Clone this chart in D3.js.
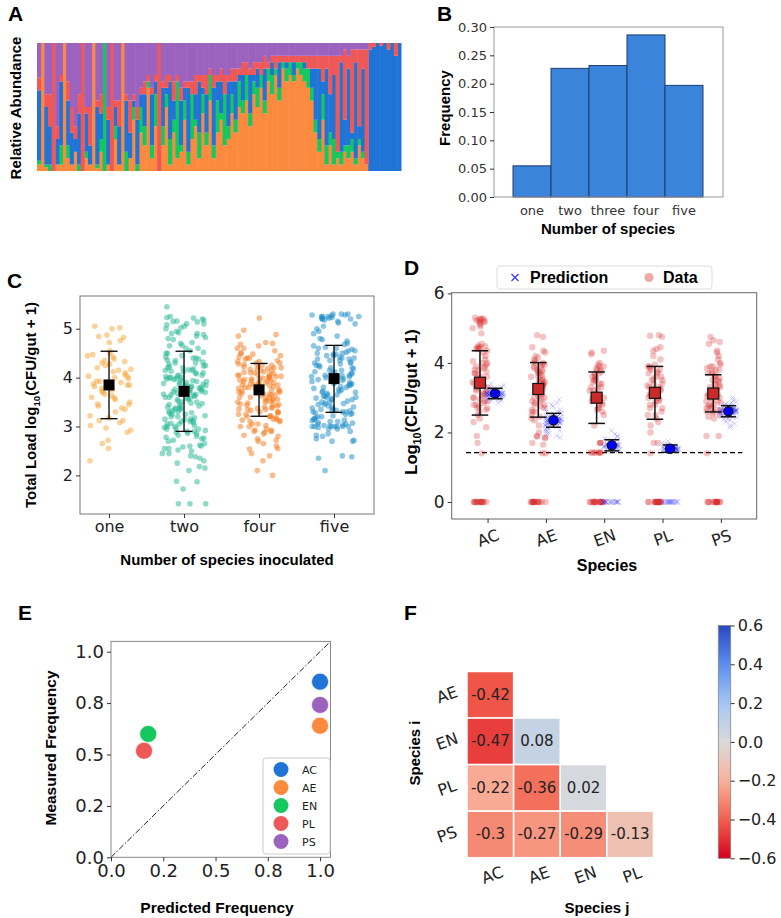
<!DOCTYPE html>
<html><head><meta charset="utf-8">
<script src="https://cdn.jsdelivr.net/npm/d3@7"></script>
<style>body{margin:0;background:#fff}svg{display:block}</style>
</head><body><svg id="chart" width="781" height="918"></svg>
<script>
// ---------------- DATA ----------------
// Panel A: relative abundance per sample (percent)
const aAC = [55,0,45,30,0,20,50,0,35,25, 10,40,0,30,15,0,45,20,0,35, 0,15,30,0,40,20,5,35,10,25, 0,40,10,0,30,5,45,15,0,35,
  10,50,0,20,40,5,30,0,45,15, 25,0,35,10,30,5,20,0,30,5, 15,0,25,0,10,0,20,0,5,0, 10,0,0,5,0,15,40,55,10,60,
  30,50,0,70,20,60,5,75,10,65, 0,95,97,100,98,100,95,100,90,100];
const aAE = [5,100,3,0,0,5,5,100,10,5, 15,0,0,10,5,100,2,15,0,5, 0,25,5,100,0,10,40,0,30,20, 65,10,35,0,20,50,5,30,10,15,
  40,5,25,35,10,45,20,55,10,30, 40,20,25,45,30,50,45,55,35,60, 50,65,45,70,60,75,55,80,70,75, 70,80,75,70,65,55,30,15,40,5,
  20,5,10,5,15,10,15,5,20,10, 5,0,0,0,0,0,0,0,0,0];
const aEN = [3,0,2,5,0,0,15,0,10,0, 0,5,0,5,0,0,3,10,100,0, 0,10,0,0,15,0,10,5,20,15, 5,10,25,0,15,10,20,10,60,5,
  15,10,35,5,20,15,10,20,10,25, 5,40,10,15,10,20,10,20,10,10, 15,10,10,10,15,5,10,5,10,10, 5,5,10,10,15,10,10,10,20,15,
  10,20,5,10,5,10,10,5,5,5, 0,0,0,0,0,0,0,0,0,0];
const aPL = [10,0,10,25,100,10,5,0,15,20, 10,15,100,5,30,0,5,15,0,10, 100,5,20,0,5,25,5,10,5,10, 5,5,5,100,5,10,5,15,5,10,
  5,5,10,15,5,10,15,5,10,5, 10,15,5,10,10,5,10,10,5,10, 5,10,10,5,5,10,5,5,5,5, 5,5,5,5,10,10,10,10,20,10,
  30,15,75,5,55,10,65,10,60,15, 90,5,3,0,2,0,5,0,10,0];
const aPS = [27,0,40,40,0,65,25,0,30,50, 65,40,0,50,50,0,45,40,0,50, 0,45,45,0,40,45,40,50,35,30, 25,35,25,0,30,25,25,30,25,35,
  30,30,30,25,25,25,25,20,25,25, 20,25,25,20,20,20,15,15,20,15, 15,15,10,15,10,10,10,10,10,10, 10,10,10,10,10,10,10,10,10,10,
  10,10,10,10,5,10,5,5,5,5, 5,0,0,0,0,0,0,0,0,0];
const aStackOrder = ['AE','EN','AC','PL','PS'];

// Panel B
const bCats = ['one','two','three','four','five'];
const bFreq = [0.055, 0.227, 0.232, 0.286, 0.197];
const bTicks = [0,0.05,0.10,0.15,0.20,0.25,0.30];

// Panel C
const cCats = ['one','two','four','five'];
const cOne = [5.05,5.02,5.0,4.87,4.84,4.82,4.76,4.72,4.55,4.5,4.45,4.42,4.38,4.35,4.33,4.3,4.25,4.2,4.17,4.15,4.1,4.06,4.03,4.0,3.98,3.93,3.9,3.87,3.85,3.82,
  3.78,3.74,3.7,3.66,3.63,3.6,3.55,3.5,3.46,3.42,3.38,3.35,3.3,3.22,3.18,3.12,3.08,3.02,2.97,2.93,2.88,2.72,2.65,2.55,2.3,
  4.02,3.92,3.72,3.58,4.12,4.28,3.12,3.45,3.85,4.47];
const cTwo = [5.45,5.25,5.23,5.22,5.2,5.18,5.16,5.14,5.1,5.08,5.05,5.02,5.0,4.95,4.92,4.9,4.88,4.85,4.82,4.78,4.72,4.66,4.65,4.6,4.55,4.5,4.5,4.45,4.42,4.4,
  4.38,4.35,4.32,4.3,4.28,4.25,4.22,4.2,4.18,4.16,4.15,4.12,4.1,4.08,4.05,4.03,4.0,4.0,3.98,3.96,3.94,3.92,3.9,3.88,3.86,3.84,3.82,3.8,3.78,3.76,
  3.74,3.73,3.72,3.7,3.68,3.66,3.64,3.62,3.6,3.58,3.55,3.52,3.5,3.48,3.45,3.42,3.4,3.38,3.35,3.32,3.3,3.28,3.25,3.22,3.2,3.18,3.15,3.12,3.1,3.08,
  3.05,3.02,3.0,2.98,2.95,2.92,2.9,2.88,2.85,2.82,2.8,2.78,2.75,2.72,2.7,2.65,2.62,2.6,2.58,2.55,2.52,2.5,2.45,2.4,2.38,2.35,2.25,2.18,2.15,2.1,
  1.88,1.87,1.72,1.42,1.42,1.42,
  4.6,4.4,4.3,4.2,4.15,4.1,4.05,4.0,3.95,3.9,3.85,3.8,3.75,3.7,3.65,3.6,3.55,3.5,3.45,3.4,3.35,3.3,3.25,3.2,3.15,3.1,3.05,3.0,2.95,2.9,
  3.92,3.87,3.76,3.66,3.58,3.47,3.37,3.27,3.14,3.06,2.96,2.86,2.76,2.6,2.45,2.3,4.52,4.36,4.24,4.13,4.02,3.97,3.83,3.71,5.1,5.15,4.9,4.8,4.7,2.55];
const cFour = [5.22,4.97,4.88,4.85,4.72,4.7,4.65,4.6,4.55,4.5,4.48,4.45,4.42,4.4,4.38,4.35,4.33,4.3,4.28,4.27,4.25,4.23,4.2,4.18,4.17,4.15,4.12,4.1,4.08,4.06,
  4.05,4.03,4.02,4.0,3.99,3.97,3.95,3.93,3.92,3.9,3.88,3.87,3.85,3.84,3.82,3.8,3.79,3.77,3.75,3.74,3.72,3.7,3.68,3.67,3.65,3.63,3.6,3.58,3.56,3.55,
  3.53,3.5,3.48,3.46,3.45,3.42,3.4,3.38,3.36,3.35,3.33,3.3,3.28,3.25,3.22,3.2,3.18,3.15,3.12,3.1,3.05,3.0,2.95,2.93,2.9,2.88,2.85,2.8,2.75,2.72,
  2.65,2.55,2.54,2.4,2.3,2.1,2.0,
  4.5,4.4,4.3,4.25,4.2,4.15,4.1,4.05,4.0,3.95,3.9,3.85,3.8,3.75,3.7,3.65,3.6,3.55,3.5,3.45,3.4,3.35,3.3,3.25,3.2,3.15,3.1,3.05,4.33,4.22,
  4.11,4.03,3.96,3.89,3.81,3.73,3.66,3.59,3.51,3.44,3.37,3.29,3.21,3.13,3.02,2.92,2.82,2.7,2.6,2.9,3.0,3.78,3.86,3.94,4.07,4.18,4.6,4.68,2.45,3.97];
const cFive = [5.25,5.3,5.3,5.28,5.27,5.25,5.25,5.23,5.22,5.2,5.2,5.18,5.15,5.12,5.1,5.05,5.0,4.95,4.85,4.8,4.78,4.75,4.7,4.68,4.65,4.6,4.58,4.55,4.52,4.5,
  4.48,4.45,4.42,4.4,4.38,4.35,4.32,4.3,4.28,4.25,4.22,4.2,4.18,4.15,4.12,4.1,4.08,4.05,4.04,4.02,4.0,3.98,3.96,3.94,3.92,3.9,3.88,3.86,3.84,3.82,
  3.8,3.78,3.75,3.72,3.7,3.68,3.65,3.62,3.6,3.58,3.55,3.52,3.5,3.48,3.45,3.42,3.4,3.38,3.35,3.33,3.32,3.3,3.3,3.28,3.25,3.22,3.2,3.18,3.15,3.12,
  3.1,3.08,3.05,3.03,3.02,3.0,3.0,3.0,3.0,2.98,2.95,2.9,2.85,2.8,2.75,2.7,2.7,2.4,2.38,2.35,2.1,
  5.3,5.28,5.25,5.22,5.2,4.9,4.6,4.55,4.5,4.45,4.4,4.35,4.3,4.25,4.2,4.15,4.1,4.05,4.0,3.95,3.9,3.85,3.8,3.75,3.7,3.65,3.6,3.55,3.5,3.45,
  3.4,3.35,3.3,3.25,3.2,3.15,3.1,3.05,3.0,3.0,3.0,2.95,3.33,3.13,3.07,3.01,4.02,4.12,3.97,3.88,3.72,4.62,4.48,4.38,3.47,3.57,3.27,2.82,2.72,3.62];
const cMean = [3.85, 3.72, 3.75, 3.98];
const cLo = [3.16, 2.90, 3.21, 3.29];
const cHi = [4.54, 4.54, 4.29, 4.66];
const cTicks = [2,3,4,5];

// Panel D
const dSpecies = ['AC','AE','EN','PL','PS'];
const dAC = [5.3,5.28,5.27,5.25,5.22,5.2,5.18,5.15,5.1,5.05,5.0,4.85,4.55,4.5,4.48,4.45,4.42,4.4,4.35,4.3,4.2,4.1,4.05,4.0,3.95,3.9,3.85,3.8,3.75,3.7,
  3.65,3.6,3.55,3.5,3.45,3.4,3.35,3.3,3.25,3.2,3.15,3.1,3.05,3.0,2.95,2.9,2.85,2.8,2.75,2.7,2.65,2.6,2.5,2.4,2.3,2.15,1.9,1.7,1.4,
  3.5,3.4,3.3,3.2,3.6,3.7,3.1,3.0,2.9,4.45,4.4,5.25,5.2,3.8,3.45,3.35,2.7,2.8,3.9,4.0,
  0,0,0,0,0,0,0,0,0,0,0,0,0,0];
const dAE = [4.8,4.75,4.45,4.35,4.3,4.2,4.15,4.1,4.05,4.0,3.95,3.9,3.85,3.8,3.75,3.7,3.65,3.6,3.55,3.5,3.45,3.4,3.35,3.3,3.25,3.2,3.15,3.1,3.05,3.0,
  2.95,2.9,2.85,2.8,2.75,2.7,2.65,2.6,2.5,2.4,2.35,2.2,2.0,1.9,1.88,1.85,1.7,1.65,1.4,1.4,
  3.5,3.4,3.3,3.2,3.6,3.7,3.1,3.0,2.9,3.8,3.9,4.0,3.45,3.35,2.8,2.6,2.45,1.85,3.95,3.75,
  0,0,0,0,0,0,0,0,0,0,0,0,0,0];
const dEN = [4.35,4.3,4.25,4.0,3.95,3.9,3.85,3.8,3.75,3.7,3.65,3.6,3.55,3.5,3.45,3.4,3.3,3.25,3.2,3.1,3.0,2.95,2.9,2.85,2.8,2.7,2.65,2.6,2.5,2.2,
  1.7,1.7,1.7,1.42,1.42,1.42,1.42,1.42,1.42, 3.6,3.4,3.3,3.2,3.5,3.0,2.9,2.8,3.8,3.9,1.42,1.42,2.7,3.7,
  0,0,0,0,0,0,0,0,0,0,0,0,0,0,0,0];
const dPL = [4.8,4.78,4.75,4.45,4.4,4.35,4.2,4.1,3.95,3.9,3.85,3.8,3.75,3.7,3.6,3.55,3.5,3.4,3.35,3.3,3.25,3.2,3.1,3.05,3.0,2.95,2.9,2.8,2.7,2.6,
  2.5,2.4,2.3,2.2,2.0,1.7,1.7,1.4, 3.5,3.4,3.3,3.2,3.6,3.0,2.9,2.8,3.8,3.9,2.7,2.5,3.1,3.7,
  0,0,0,0,0,0,0,0,0,0,0,0,0,0,0,0];
const dPS = [4.75,4.65,4.6,4.55,4.35,4.3,4.2,4.1,4.0,3.95,3.9,3.85,3.8,3.75,3.7,3.65,3.6,3.55,3.5,3.45,3.4,3.35,3.3,3.25,3.2,3.15,3.1,3.05,3.0,2.95,
  2.9,2.85,2.8,2.75,2.7,2.65,2.6,2.55,2.5,2.45,2.4,1.9,1.9,1.4, 3.5,3.4,3.3,3.2,3.6,3.0,2.9,2.8,3.8,3.9,2.7,2.6,3.1,3.7,2.65,2.75,
  0,0,0,0,0,0,0,0,0,0,0,0,0,0];
const pAC = [3.4,3.35,3.3,3.28,3.25,3.22,3.2,3.18,3.16,3.15,3.14,3.13,3.12,3.12,3.11,3.1,3.1,3.09,3.08,3.07,3.06,3.05,3.04,3.02,3.0,2.98,2.95,2.92,2.9,2.85,
  3.13,3.15,3.08,3.11,3.06,3.18,3.03,3.1,3.14,3.09,
  3.12,3.1,3.08,3.14,3.16,3.05,3.2,3.0,3.11,3.13,3.09,3.07,3.15,3.17,3.03,3.22,2.97,3.25,3.12,3.1,3.18,3.06,3.14,3.01,3.3,2.93,3.11,3.09,3.13,3.08];
const pAE = [2.95,2.85,2.75,2.65,2.6,2.55,2.5,2.48,2.45,2.42,2.4,2.38,2.36,2.35,2.34,2.33,2.32,2.3,2.28,2.26,2.25,2.22,2.2,2.18,2.15,2.1,2.05,2.0,1.95,1.9,
  1.85,2.37,2.31,2.29,2.41,2.27,2.35,2.39,2.44,2.24,
  2.35,2.3,2.4,2.38,2.33,2.28,2.45,2.25,2.5,2.2,2.36,2.32,2.42,2.27,2.55,2.15,2.34,2.37,2.29,2.6,2.1,2.39,2.31,2.7,2.05,2.43,2.26,2.8,1.98,2.36];
const pEN = [2.05,1.95,1.88,1.82,1.78,1.75,1.72,1.7,1.68,1.66,1.65,1.64,1.63,1.62,1.61,1.6,1.59,1.58,1.56,1.55,1.53,1.5,1.48,1.46,1.62,1.64,1.6,1.67,1.57,1.63,
  1.62,1.6,1.65,1.58,1.67,1.55,1.7,1.63,1.61,1.64,1.59,1.66,1.52,1.74,1.62,1.57,1.8,1.5,1.63,1.9,
  0,0,0,0,0,0,0,0,0,0,0,0,0,0,0,0,0,0,0,0];
const pPL = [1.75,1.7,1.66,1.63,1.6,1.58,1.57,1.56,1.55,1.54,1.53,1.53,1.52,1.52,1.51,1.5,1.5,1.49,1.48,1.47,1.46,1.45,1.55,1.54,1.52,1.51,1.56,1.5,
  1.53,1.52,1.54,1.51,1.55,1.5,1.56,1.49,1.57,1.48,1.53,1.58,1.52,1.6,1.47,1.54,1.62,1.51,1.65,1.53,
  0,0,0,0,0,0,0,0,0,0,0,0,0,0,0,0,0,0,0,0];
const pPS = [3.0,2.92,2.88,2.82,2.78,2.75,2.72,2.7,2.68,2.66,2.65,2.64,2.63,2.62,2.61,2.6,2.6,2.59,2.58,2.57,2.56,2.55,2.53,2.5,2.48,2.45,2.42,2.38,2.3,2.2,
  2.15,2.62,2.64,2.58,2.66,2.61,2.56,2.6,2.63,2.59,
  2.61,2.6,2.62,2.59,2.64,2.57,2.66,2.55,2.68,2.52,2.63,2.58,2.7,2.5,2.72,2.47,2.61,2.65,2.56,2.75,2.43,2.8,2.4,2.6,2.62,2.35,2.85,2.59,2.25,2.63];
const dDataMean = [3.43, 3.25, 3.00, 3.14, 3.12];
const dDataLo = [2.50, 2.44, 2.26, 2.38, 2.59];
const dDataHi = [4.35, 4.01, 3.74, 3.90, 3.66];
const dPredMean = [3.12, 2.35, 1.63, 1.53, 2.61];
const dPredLo = [2.97, 2.15, 1.47, 1.43, 2.45];
const dPredHi = [3.27, 2.55, 1.79, 1.64, 2.77];
const dDetectLimit = 1.417;
const dTicks = [0,2,4,6];

// Panel E
const eSpecies = ['AC','AE','EN','PL','PS'];
const ePredicted = [1.0, 1.0, 0.178, 0.158, 1.0];
const eMeasured = [0.854, 0.64, 0.60, 0.518, 0.741];
const eTicks = [0, 0.25, 0.5, 0.75, 1.0];
const eTickLabels = ['0.0','0.2','0.5','0.8','1.0'];

// Panel F
const fRows = ['AE','EN','PL','PS'];
const fCols = ['AC','AE','EN','PL'];
const fValues = [[-0.42],[-0.47,0.08],[-0.22,-0.36,0.02],[-0.3,-0.27,-0.29,-0.13]];
const fTicks = [-0.6,-0.4,-0.2,0,0.2,0.4,0.6];

// ---------------- STYLE ----------------
const speciesColor = {AC:'#1f74d6', AE:'#fb8a3e', EN:'#14c85f', PL:'#ef5858', PS:'#9b62be'};
const BOLD = "'Liberation Sans', Arial, sans-serif";
const TICK = "'DejaVu Sans', sans-serif";

const svg = d3.select('#chart');
svg.append('rect').attr('width',781).attr('height',918).attr('fill','#fff');

function letter(t,x,y){ svg.append('text').attr('x',x).attr('y',y).text(t)
  .attr('font-family',BOLD).attr('font-weight','bold').attr('font-size',21).attr('fill','#000'); }
function boldLabel(t,x,y,rot,size){
  const el = svg.append('text').attr('transform',`translate(${x},${y}) rotate(${rot||0})`)
    .attr('text-anchor','middle').attr('font-family',BOLD).attr('font-weight','bold')
    .attr('font-size',size||15).attr('fill','#000');
  if (Array.isArray(t)) t.forEach(p=>{ const s=el.append('tspan').text(p.t); if(p.sub) s.attr('font-size',(size||15)*0.65).attr('dy',4); else if(p.after) s.attr('dy',-4); });
  else el.text(t);
  return el;
}
// deterministic horizontal jitter (layout only, not data)
function jit(i, amp){ const h = Math.sin(i*12.9898+78.233)*43758.5453; return ((h-Math.floor(h)) - 0.5)*2*amp; }
function styleAxis(g, fs, col){
  g.select('.domain').remove();
  g.selectAll('.tick line').attr('stroke','#333');
  g.selectAll('.tick text').attr('font-family',TICK).attr('font-size',fs).attr('fill',col||'#222');
}

// ---------------- PANEL A ----------------
letter('A',8,21);
const aIdx = d3.range(aAC.length);
const aRows = aIdx.map(i=>({AC:aAC[i],AE:aAE[i],EN:aEN[i],PL:aPL[i],PS:aPS[i]}));
const aStack = d3.stack().keys(aStackOrder).offset(d3.stackOffsetExpand)(aRows);
const ax = d3.scaleBand().domain(aIdx).range([37,401]);
const ay = d3.scaleLinear().domain([0,1]).range([171,43]);
const gA = svg.append('g');
aStack.forEach(layer=>{
  gA.selectAll(null).data(layer).join('rect')
    .attr('x',(d,i)=>ax(i)).attr('width',ax.bandwidth()+0.5)
    .attr('y',d=>ay(d[1])).attr('height',d=>Math.max(0,ay(d[0])-ay(d[1])))
    .attr('fill',speciesColor[layer.key]);
});
boldLabel('Relative Abundance',21,108,-90,15);

// ---------------- PANEL B ----------------
letter('B',437,21);
const bx = d3.scaleBand().domain(bCats).range([513,703]);
const by = d3.scaleLinear().domain([0,0.30]).range([197,27]);
svg.append('g').selectAll('rect').data(bCats).join('rect')
  .attr('x',d=>bx(d)).attr('width',bx.bandwidth())
  .attr('y',(d,i)=>by(bFreq[i])).attr('height',(d,i)=>by(0)-by(bFreq[i]))
  .attr('fill','#3b84dc').attr('stroke','#1d3c6e').attr('stroke-width',1);
svg.append('rect').attr('x',494).attr('y',27).attr('width',229).attr('height',170)
  .attr('fill','none').attr('stroke','#999').attr('stroke-width',1);
styleAxis(svg.append('g').attr('transform','translate(494,0)')
  .call(d3.axisLeft(by).tickValues(bTicks).tickFormat(d3.format('.2f')).tickSize(4)), 13, '#333');
styleAxis(svg.append('g').attr('transform','translate(0,197)')
  .call(d3.axisBottom(bx).tickSize(0).tickPadding(9)), 13, '#333');
boldLabel('Frequency',450,108,-90,15);
boldLabel('Number of species',608,234,0,15);

// ---------------- PANEL C ----------------
letter('C',7,288);
const cx = d3.scaleLinear().domain([-0.387,3.533]).range([80,374]);
const cy = d3.scaleLinear().domain([1.21,5.67]).range([514,296]);
const cGroups = [cOne,cTwo,cFour,cFive];
const cColors = ['#f7a633','#1fb592','#f57a1c','#1a8dc8'];
const cAmp = [0.3,0.3,0.3,0.3];
const gC = svg.append('g');
cGroups.forEach((arr,g)=>{
  gC.selectAll(null).data(arr).join('circle')
    .attr('cx',(d,i)=>cx(g + (g===3 && i===0 ? 0.33 : jit(i+g*311,cAmp[g]))))
    .attr('cy',d=>cy(d)).attr('r',2.8)
    .attr('fill',cColors[g]).attr('fill-opacity',0.5);
});
cCats.forEach((c,g)=>{
  const x = cx(g);
  gC.append('line').attr('x1',x).attr('x2',x).attr('y1',cy(cLo[g])).attr('y2',cy(cHi[g])).attr('stroke','#000').attr('stroke-width',1.3);
  [cLo[g],cHi[g]].forEach(v=>gC.append('line').attr('x1',x-8.5).attr('x2',x+8.5).attr('y1',cy(v)).attr('y2',cy(v)).attr('stroke','#000').attr('stroke-width',1.3));
  gC.append('rect').attr('x',x-5.5).attr('y',cy(cMean[g])-5.5).attr('width',11).attr('height',11).attr('fill','#000');
});
svg.append('rect').attr('x',80).attr('y',296).attr('width',294).attr('height',218)
  .attr('fill','none').attr('stroke','#777').attr('stroke-width',1);
styleAxis(svg.append('g').attr('transform','translate(80,0)')
  .call(d3.axisLeft(cy).tickValues(cTicks).tickFormat(d3.format('d')).tickSize(4)), 16);
styleAxis(svg.append('g').attr('transform','translate(0,514)')
  .call(d3.axisBottom(cx).tickValues(d3.range(cCats.length)).tickFormat(i=>cCats[i]).tickSize(4)), 16);
boldLabel([{t:'Total Load log'},{t:'10',sub:true},{t:'(CFU/gut + 1)',after:true}],36,405,-90,15);
boldLabel('Number of species inoculated',227,565,0,15);

// ---------------- PANEL D ----------------
letter('D',404,275);
const dx = d3.scaleLinear().domain([-0.615,4.615]).range([451.7,756.7]);
const dy = d3.scaleLinear().domain([-0.49,6.02]).range([519,292.7]);
const dData = [dAC,dAE,dEN,dPL,dPS];
const dPred = [pAC,pAE,pEN,pPL,pPS];
const gD = svg.append('g');
gD.append('line').attr('x1',dx(-0.37)).attr('x2',dx(4.37)).attr('y1',dy(dDetectLimit)).attr('y2',dy(dDetectLimit))
  .attr('stroke','#000').attr('stroke-width',1.3).attr('stroke-dasharray','5,3');
dData.forEach((arr,g)=>{
  gD.selectAll(null).data(arr).join('circle')
    .attr('cx',(d,i)=>dx(g-0.13+jit(i+g*173,0.13))).attr('cy',d=>dy(d)).attr('r',3.2)
    .attr('fill','#d62728').attr('fill-opacity',0.28);
});
dPred.forEach((arr,g)=>{
  arr.forEach((v,i)=>{
    const px = dx(g+0.13+jit(i+g*97+1000,0.15)), py = dy(v), s=2.6;
    gD.append('path').attr('d',`M${px-s},${py-s}L${px+s},${py+s}M${px-s},${py+s}L${px+s},${py-s}`)
      .attr('stroke','#2222ff').attr('stroke-opacity',0.3).attr('stroke-width',0.7).attr('fill','none');
  });
});
dSpecies.forEach((s,g)=>{
  const xd = dx(g-0.13), xp = dx(g+0.13);
  gD.append('line').attr('x1',xd).attr('x2',xd).attr('y1',dy(dDataLo[g])).attr('y2',dy(dDataHi[g])).attr('stroke','#111').attr('stroke-width',1.5);
  [dDataLo[g],dDataHi[g]].forEach(v=>gD.append('line').attr('x1',xd-8.3).attr('x2',xd+8.3).attr('y1',dy(v)).attr('y2',dy(v)).attr('stroke','#111').attr('stroke-width',1.5));
  gD.append('line').attr('x1',xp).attr('x2',xp).attr('y1',dy(dPredLo[g])).attr('y2',dy(dPredHi[g])).attr('stroke','#111').attr('stroke-width',1.5);
  [dPredLo[g],dPredHi[g]].forEach(v=>gD.append('line').attr('x1',xp-7.5).attr('x2',xp+7.5).attr('y1',dy(v)).attr('y2',dy(v)).attr('stroke','#111').attr('stroke-width',1.5));
  gD.append('rect').attr('x',xd-5.5).attr('y',dy(dDataMean[g])-5.5).attr('width',11).attr('height',11)
    .attr('fill','#cc2a2a').attr('stroke','#111').attr('stroke-width',1.2);
  gD.append('circle').attr('cx',xp).attr('cy',dy(dPredMean[g])).attr('r',4.6)
    .attr('fill','#0000ff').attr('stroke','#111').attr('stroke-width',1.2);
});
svg.append('rect').attr('x',451.7).attr('y',292.7).attr('width',305).attr('height',226.3)
  .attr('fill','none').attr('stroke','#666').attr('stroke-width',1);
styleAxis(svg.append('g').attr('transform','translate(451.7,0)')
  .call(d3.axisLeft(dy).tickValues(dTicks).tickFormat(d3.format('d')).tickSize(4)), 17);
const dXAxis = svg.append('g').attr('transform','translate(0,519)')
  .call(d3.axisBottom(dx).tickValues(d3.range(dSpecies.length)).tickFormat(i=>dSpecies[i]).tickSize(4));
styleAxis(dXAxis, 16);
dXAxis.selectAll('.tick text').attr('y',0).attr('dy',null)
  .attr('transform','translate(0,19) rotate(-20)').attr('text-anchor','middle').attr('dominant-baseline','central');
boldLabel([{t:'Log'},{t:'10',sub:true},{t:'(CFU/gut + 1)',after:true}],417,402,-90,16.5);
boldLabel('Species',607,571,0,16);
// legend
svg.append('rect').attr('x',497).attr('y',266).attr('width',215).attr('height',23).attr('rx',3)
  .attr('fill','#fff').attr('stroke','#ddd');
{ const lx=515, ly=277.5, s=3.5;
  svg.append('path').attr('d',`M${lx-s},${ly-s}L${lx+s},${ly+s}M${lx-s},${ly+s}L${lx+s},${ly-s}`).attr('stroke','#3333ff').attr('stroke-width',1.2);
  svg.append('text').attr('x',530).attr('y',283).text('Prediction').attr('font-family',BOLD).attr('font-weight','bold').attr('font-size',16);
  svg.append('circle').attr('cx',649).attr('cy',277.5).attr('r',4.5).attr('fill','#d62728').attr('fill-opacity',0.4);
  svg.append('text').attr('x',663).attr('y',283).text('Data').attr('font-family',BOLD).attr('font-weight','bold').attr('font-size',16);
}

// ---------------- PANEL E ----------------
letter('E',18,620);
const ex = d3.scaleLinear().domain([0,1.05]).range([111,330.5]);
const ey = d3.scaleLinear().domain([0,1.05]).range([857.3,641.4]);
svg.append('line').attr('x1',ex(0)).attr('y1',ey(0)).attr('x2',ex(1.05)).attr('y2',ey(1.05))
  .attr('stroke','#222').attr('stroke-width',1).attr('stroke-dasharray','6,2,1.5,2');
svg.append('g').selectAll('circle').data(eSpecies).join('circle')
  .attr('cx',(d,i)=>ex(ePredicted[i])).attr('cy',(d,i)=>ey(eMeasured[i])).attr('r',8.5)
  .attr('fill',d=>speciesColor[d]).attr('stroke','#fff').attr('stroke-width',0.6);
svg.append('rect').attr('x',111).attr('y',641.4).attr('width',219.5).attr('height',215.9)
  .attr('fill','none').attr('stroke','#888').attr('stroke-width',1);
styleAxis(svg.append('g').attr('transform','translate(111,0)')
  .call(d3.axisLeft(ey).tickValues(eTicks).tickFormat((d,i)=>eTickLabels[i]).tickSize(4)), 18);
styleAxis(svg.append('g').attr('transform','translate(0,857.3)')
  .call(d3.axisBottom(ex).tickValues(eTicks).tickFormat((d,i)=>eTickLabels[i]).tickSize(4)), 18);
boldLabel('Measured Frequency',56,748,-90,15.5);
boldLabel('Predicted Frequency',217,913,0,15.5);
svg.append('rect').attr('x',263).attr('y',758).attr('width',67).attr('height',96).attr('rx',3)
  .attr('fill','#fff').attr('fill-opacity',0.85).attr('stroke','#ccc');
eSpecies.forEach((s,i)=>{
  const yy = 769.5 + i*18;
  svg.append('circle').attr('cx',281).attr('cy',yy).attr('r',7.5).attr('fill',speciesColor[s]);
  svg.append('text').attr('x',302).attr('y',yy+4).text(s).attr('font-family',TICK).attr('font-size',11).attr('fill','#222');
});

// ---------------- PANEL F ----------------
letter('F',404,620);
const fx = d3.scaleBand().domain(fCols).range([467,653.5]);
const fy = d3.scaleBand().domain(fRows).range([671.5,857.7]);
const fColor = d3.scaleLinear().domain(fTicks)
  .range(['#d6001e','#f2604c','#f9b29c','#dadada','#a6c6f4','#5a8eee','#2a48c2']).clamp(true);
const fCells = [];
fValues.forEach((row,r)=>row.forEach((v,c)=>fCells.push({r:fRows[r],c:fCols[c],v})));
const gF = svg.append('g');
gF.selectAll('rect').data(fCells).join('rect')
  .attr('x',d=>fx(d.c)).attr('y',d=>fy(d.r)).attr('width',fx.bandwidth()).attr('height',fy.bandwidth())
  .attr('fill',d=>fColor(d.v)).attr('stroke','#fff').attr('stroke-width',1.5);
gF.selectAll('text').data(fCells).join('text')
  .attr('x',d=>fx(d.c)+fx.bandwidth()/2).attr('y',d=>fy(d.r)+fy.bandwidth()/2)
  .attr('text-anchor','middle').attr('dominant-baseline','central')
  .attr('font-family',TICK).attr('font-size',15).attr('fill','#222')
  .text(d=>String(d.v));
fRows.forEach(r=>svg.append('text').attr('transform',`translate(447,${fy(r)+fy.bandwidth()/2}) rotate(-20)`)
  .attr('text-anchor','middle').attr('dominant-baseline','central').attr('font-family',TICK).attr('font-size',16).attr('fill','#222').text(r));
fCols.forEach(c=>svg.append('text').attr('transform',`translate(${fx(c)+fx.bandwidth()/2+2},875) rotate(-20)`)
  .attr('text-anchor','middle').attr('dominant-baseline','central').attr('font-family',TICK).attr('font-size',16).attr('fill','#222').text(c));
boldLabel('Species i',420,753,-90,15);
boldLabel('Species j',597,913,0,15);
// colorbar
const cbScale = d3.scaleLinear().domain([-0.6,0.6]).range([858.3,625.5]);
const grad = svg.append('defs').append('linearGradient').attr('id','cbgrad')
  .attr('x1',0).attr('y1',1).attr('x2',0).attr('y2',0);
d3.range(0,1.0001,0.05).forEach(t=>grad.append('stop').attr('offset',t).attr('stop-color',fColor(-0.6+1.2*t)));
svg.append('rect').attr('x',718.3).attr('y',625.5).attr('width',12.4).attr('height',232.8)
  .attr('fill','url(#cbgrad)').attr('stroke','#888').attr('stroke-width',0.8);
styleAxis(svg.append('g').attr('transform','translate(730.7,0)')
  .call(d3.axisRight(cbScale).tickValues(fTicks).tickFormat(d=>d3.format('.1f')(d).replace('-','\u2212')).tickSize(4)), 16);
</script></body></html>
